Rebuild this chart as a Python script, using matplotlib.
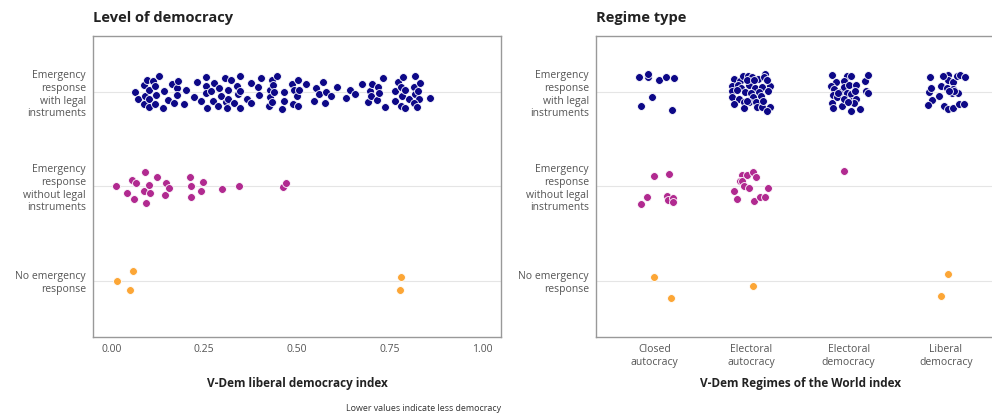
import numpy as np
import matplotlib
matplotlib.use("Agg")
import matplotlib.pyplot as plt

plt.rcParams['font.family'] = ['Open Sans', 'Noto Sans', 'DejaVu Sans']

responses = ["Emergency\nresponse\nwith legal\ninstruments",
             "Emergency\nresponse\nwithout legal\ninstruments",
             "No emergency\nresponse"]
regimes = ["Closed\nautocracy", "Electoral\nautocracy", "Electoral\ndemocracy", "Liberal\ndemocracy"]
colors = ["#0d0887", "#b12a90", "#fca636"]

# ---- left panel: liberal democracy index by response ----
legal_libdem = [0.063, 0.071, 0.087, 0.090, 0.088, 0.096, 0.100, 0.101, 0.100, 0.111,
                0.116, 0.120, 0.116, 0.127, 0.142, 0.140, 0.153, 0.162, 0.168, 0.177,
                0.180, 0.177, 0.196, 0.201, 0.223, 0.231, 0.240, 0.256, 0.255, 0.255,
                0.257, 0.268, 0.275, 0.274, 0.287, 0.291, 0.294, 0.306, 0.308, 0.311,
                0.314, 0.315, 0.323, 0.329, 0.339, 0.340, 0.345, 0.346, 0.347, 0.365,
                0.375, 0.377, 0.396, 0.397, 0.403, 0.425, 0.428, 0.428, 0.432, 0.433,
                0.435, 0.439, 0.446, 0.460, 0.465, 0.466, 0.487, 0.488, 0.493, 0.501,
                0.504, 0.504, 0.506, 0.523, 0.546, 0.552, 0.560, 0.569, 0.575, 0.578,
                0.592, 0.608, 0.632, 0.642, 0.657, 0.676, 0.691, 0.698, 0.701, 0.699,
                0.716, 0.719, 0.722, 0.733, 0.737, 0.763, 0.763, 0.772, 0.780, 0.783,
                0.785, 0.781, 0.791, 0.791, 0.801, 0.815, 0.817, 0.817, 0.826, 0.829,
                0.831, 0.816, 0.823, 0.859]
legal_jit = [0.00, 0.07, -0.08, 0.04, 0.12, -0.13, -0.03, 0.07, 0.16, -0.12,
             -0.07, 0.03, 0.12, -0.17, -0.01, 0.17, 0.08, -0.09, 0.11, -0.05,
             -0.12, 0.03, 0.12, -0.03, 0.05, -0.11, 0.09, -0.16, -0.07, 0.01,
             0.17, -0.01, -0.10, 0.09, 0.14, -0.05, 0.04, -0.15, 0.10, 0.17,
             -0.03, 0.07, -0.13, 0.11, -0.07, 0.02, -0.17, 0.17, -0.02, 0.07,
             -0.10, 0.11, -0.06, 0.03, -0.15, 0.14, -0.03, 0.05, 0.10, -0.13,
             -0.08, 0.00, -0.18, 0.18, 0.00, 0.09, -0.09, 0.12, -0.03, 0.04,
             -0.13, 0.14, -0.03, -0.09, 0.09, -0.05, 0.02, -0.11, 0.11, 0.00,
             0.04, -0.06, 0.06, -0.03, 0.02, -0.09, 0.10, -0.02, -0.09, 0.04,
             0.08, -0.06, 0.01, -0.15, 0.16, -0.01, 0.09, -0.11, -0.06, 0.04,
             -0.16, 0.14, 0.17, -0.03, 0.07, -0.06, -0.17, 0.02, -0.01, 0.07,
             -0.10, 0.11, 0.16, 0.06]

nolegal_libdem = [0.013, 0.041, 0.054, 0.060, 0.066, 0.087, 0.089, 0.092, 0.101, 0.103,
                  0.123, 0.145, 0.146, 0.155, 0.211, 0.214, 0.213, 0.241, 0.247, 0.297,
                  0.343, 0.462, 0.470]
nolegal_jit = [0.00, 0.07, -0.07, 0.13, -0.04, 0.05, -0.15, 0.18, -0.02, 0.07,
               -0.10, 0.09, -0.04, 0.02, -0.10, 0.00, 0.11, 0.05, -0.05, 0.03,
               -0.01, 0.01, -0.04]

none_libdem = [0.015, 0.059, 0.051, 0.780, 0.777]
none_jit = [0.00, -0.10, 0.10, -0.04, 0.10]

# ---- right panel: regime type by response ----
legal_regime = [0] * 9 + [1] * 40 + [2] * 31 + [3] * 25
legal_rx = [-0.16, -0.06, -0.06, 0.05, 0.12, 0.20, -0.02, -0.14, 0.18,
            -0.18, -0.12, -0.09, -0.04, 0.01, 0.07, 0.14, 0.13, -0.20, -0.14,
            -0.11, -0.03, 0.04, 0.11, 0.19, -0.20, -0.07, 0.00, 0.08, 0.17,
            -0.20, -0.13, -0.01, 0.02, 0.10, -0.18, -0.08, -0.02, 0.05, -0.08,
            0.06, 0.11, 0.19, 0.16, -0.15, -0.05, 0.03, 0.16, -0.05, 0.12,
            -0.17, -0.13, -0.18, -0.15, -0.09, -0.16, -0.17, -0.16, -0.07, -0.02,
            0.03, -0.05, -0.05, 0.00, 0.08, -0.02, 0.02, 0.07, 0.04, 0.08,
            0.06, 0.02, 0.12, 0.17, 0.20, 0.18, 0.20, -0.12, -0.05, -0.11, -0.01,
            -0.16, -0.17, -0.15, -0.14, -0.18, -0.07, -0.05, 0.01, 0.02, 0.02,
            0.07, 0.08, 0.12, 0.15, 0.20, 0.06, 0.13, -0.02, 0.02, 0.08,
            0.14, 0.19, 0.09, 0.03, -0.03]
legal_ry = [-0.16, -0.16, -0.20, -0.13, -0.16, -0.15, 0.05, 0.14, 0.19,
            -0.14, -0.12, -0.17, -0.17, -0.16, -0.14, -0.20, -0.16, -0.07, -0.08,
            -0.05, -0.08, -0.05, -0.06, -0.07, -0.02, 0.00, 0.01, 0.00, -0.01,
            0.05, 0.07, 0.08, 0.05, 0.04, 0.12, 0.10, 0.10, 0.10, 0.17,
            0.16, 0.16, 0.15, 0.20, -0.03, -0.13, -0.13, -0.13, 0.09, 0.09,
            -0.19, -0.11, -0.07, -0.04, 0.00, 0.03, 0.11, 0.17, 0.14, -0.17,
            -0.17, -0.12, -0.06, -0.08, -0.08, 0.01, 0.02, -0.02, 0.09, 0.07,
            0.11, 0.20, 0.18, -0.12, -0.19, -0.01, 0.01, 0.05, 0.07, 0.01, 0.10,
            -0.16, 0.00, -0.05, 0.08, 0.13, 0.04, -0.07, -0.05, -0.19, -0.13,
            -0.11, -0.04, -0.18, -0.19, -0.16, 0.01, 0.01, 0.14, 0.18, 0.17,
            0.12, 0.12, -0.02, -0.02, -0.17]

nolegal_regime = [0] * 8 + [1] * 14 + [2]
nolegal_rx = [0.00, 0.15, -0.07, -0.14, 0.13, 0.14, 0.19, 0.19,
              -0.10, -0.05, 0.02, 0.05, -0.12, -0.10, -0.08, -0.03, -0.18, -0.15,
              0.03, 0.09, 0.14, 0.17, -0.05]
nolegal_ry = [-0.11, -0.13, 0.11, 0.19, 0.10, 0.14, 0.12, 0.17,
              -0.12, -0.12, -0.15, -0.10, -0.06, -0.06, -0.01, 0.02, 0.05, 0.13,
              0.15, 0.11, 0.11, 0.02, -0.16]

none_regime = [0, 0, 1, 3, 3]
none_rx = [0.00, 0.17, 0.02, 0.02, -0.05]
none_ry = [-0.04, 0.19, 0.06, -0.07, 0.16]

W, H = 992, 415
fig = plt.figure(figsize=(W / 100, H / 100), dpi=100)
ax1 = fig.add_axes([93 / W, 78 / H, 408 / W, 301 / H])
ax2 = fig.add_axes([596 / W, 78 / H, 408 / W, 301 / H])

dot = dict(s=32, edgecolors="white", linewidths=0.6, zorder=3)

left_x = [legal_libdem, nolegal_libdem, none_libdem]
left_j = [legal_jit, nolegal_jit, none_jit]
for i in range(3):
    ax1.scatter(left_x[i], i + np.array(left_j[i]), color=colors[i], **dot)

right_c = [legal_regime, nolegal_regime, none_regime]
right_x = [legal_rx, nolegal_rx, none_rx]
right_y = [legal_ry, nolegal_ry, none_ry]
for i in range(3):
    ax2.scatter(np.array(right_c[i]) + np.array(right_x[i]), i + np.array(right_y[i]),
                color=colors[i], **dot)

for ax in (ax1, ax2):
    ax.set_ylim(2.6, -0.6)
    ax.set_yticks(range(3))
    ax.set_yticklabels(responses, fontsize=7.5, color="#555555")
    for y in range(3):
        ax.axhline(y, color="#e5e5e5", lw=0.8, zorder=1)
    for s in ax.spines.values():
        s.set_color("#999999")
        s.set_linewidth(1)
    ax.tick_params(length=0, pad=5, labelsize=7.5, labelcolor="#555555")

ax1.set_xlim(-0.05, 1.05)
ax1.set_xticks([0, 0.25, 0.5, 0.75, 1.0])
ax1.set_xticklabels(["0.00", "0.25", "0.50", "0.75", "1.00"])

ax2.set_xlim(-0.6, 3.6)
ax2.set_xticks(range(4))
ax2.set_xticklabels(regimes)

fig.text(93 / W, 1 - 18 / H, "Level of democracy", fontsize=10.5, fontweight="bold",
         color="#222222", va="center", ha="left")
fig.text(596 / W, 1 - 18 / H, "Regime type", fontsize=10.5, fontweight="bold",
         color="#222222", va="center", ha="left")
fig.text(297 / W, 1 - 383 / H, "V-Dem liberal democracy index", fontsize=8.5,
         fontweight="bold", color="#222222", va="center", ha="center")
fig.text(800 / W, 1 - 383 / H, "V-Dem Regimes of the World index", fontsize=8.5,
         fontweight="bold", color="#222222", va="center", ha="center")
fig.text(501 / W, 1 - 408 / H, "Lower values indicate less democracy", fontsize=6.4,
         color="#333333", va="center", ha="right")

fig.savefig("out.png", dpi=100)
